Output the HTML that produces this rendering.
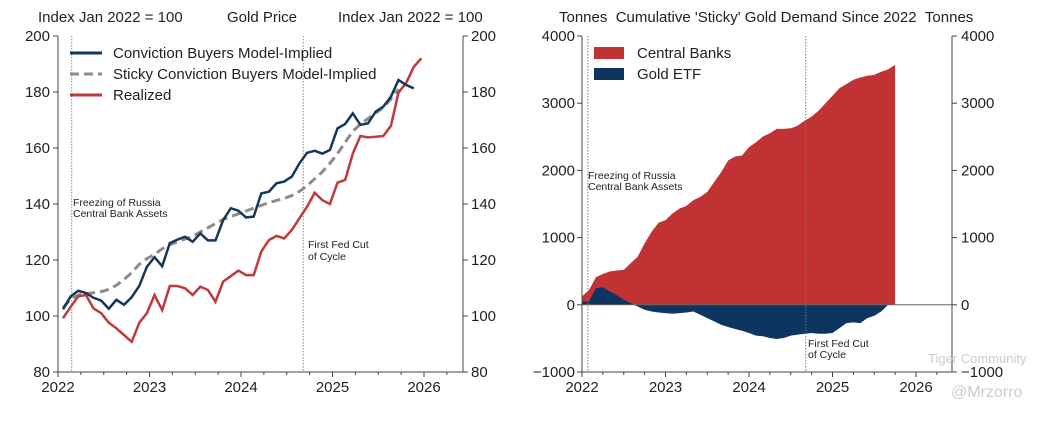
<!DOCTYPE html>
<html><head><meta charset="utf-8"><style>
body{margin:0;background:#fff;width:1061px;height:418px;overflow:hidden;font-family:"Liberation Sans",sans-serif}
svg text{font-family:"Liberation Sans",sans-serif;fill:#222}
</style></head><body>
<svg id="c" width="1061" height="418"></svg>
<script>
// Left chart data (monthly from Feb 2022)
const convictionVals=[102.4,107,109,108.2,106.5,105.5,102.6,105.8,104,106.7,110.8,117.6,121,117.8,126,127.3,128.3,126.5,129.5,127,127,134.3,138.5,137.6,135.2,135.5,143.8,144.4,147.4,148,149.8,154.5,158.3,159,158,159.3,167,168.6,172.4,168.3,168.8,173,174.8,178.3,184.3,182.5,181.3];
const stickyVals=[103,106,107.5,108,108.3,108.7,109.5,111,113,115.5,118.5,120.5,122,124,125.5,126.5,127.5,128.5,130,131.5,133,134.5,135.5,136.5,137.5,138.5,139.5,140.5,141.3,142,143,144.5,146.5,149,151.5,154.5,158,162,166,168.5,170.5,172.5,174.5,177.5,181];
const realizedVals=[99.2,103.3,107,107.5,102.7,101,97.6,95.6,93.2,90.8,97.6,101,107.5,102.1,110.7,110.7,109.9,107.5,110.5,109.3,105.1,112.3,114.2,116.2,114.6,114.6,123,127.1,128.6,127.7,130.7,134.9,139,144,141.4,140,147.6,148.6,158,164.3,163.8,164,164.3,167.9,179.8,183.3,189,192];
const leftTicks=[80,100,120,140,160,180,200];
const yearLabels=[2022,2023,2024,2025,2026];
// Right chart data (monthly from Jan 2022)
const centralBanks=[125,220,410,460,495,510,520,617,716,914,1086,1220,1260,1358,1432,1472,1556,1605,1680,1827,1975,2148,2207,2222,2346,2420,2504,2553,2617,2617,2627,2667,2741,2800,2889,2998,3111,3225,3284,3348,3383,3407,3422,3467,3506,3570];
const goldEtf=[50,50,247,262,198,148,74,25,-25,-74,-99,-114,-123,-133,-123,-114,-99,-148,-198,-247,-296,-331,-360,-385,-420,-459,-469,-494,-509,-494,-459,-444,-430,-420,-430,-430,-420,-346,-272,-262,-272,-198,-163,-99,0,0];
const rightTicks=[-1000,0,1000,2000,3000,4000];

const svg=document.getElementById('c');const NS='http://www.w3.org/2000/svg';
function mk(tag,attrs,parent){const e=document.createElementNS(NS,tag);for(const k in attrs)e.setAttribute(k,attrs[k]);(parent||svg).appendChild(e);return e;}
function txt(s,x,y,size,anchor,parent){const t=mk('text',{x:x,y:y,'font-size':size,'text-anchor':anchor||'start'},parent);t.textContent=s;return t;}

// ---- LEFT ----
const L={x0:58,x1:463,y0:372,y1:36,ymin:80,ymax:200,pxYear:91.5};
const lx=t=>L.x0+(t-2022)*L.pxYear;
const ly=v=>L.y0-(v-L.ymin)/(L.ymax-L.ymin)*(L.y0-L.y1);
const gl=mk('g',{});


mk('line',{x1:L.x0,y1:L.y1,x2:L.x0,y2:L.y0,stroke:'#444'},gl);
mk('line',{x1:L.x1,y1:L.y1,x2:L.x1,y2:L.y0,stroke:'#444'},gl);
mk('line',{x1:L.x0,y1:L.y0,x2:L.x1,y2:L.y0,stroke:'#444'},gl);
leftTicks.forEach(v=>{const y=ly(v);
 mk('line',{x1:L.x0-5,y1:y,x2:L.x0,y2:y,stroke:'#444'},gl);
 mk('line',{x1:L.x1,y1:y,x2:L.x1+5,y2:y,stroke:'#444'},gl);
 const a=txt(v,L.x0-8,y+5,15,'end',gl);
 const b=txt(v,L.x1+8,y+5,15,'start',gl);});
yearLabels.forEach(yr=>{const x=lx(yr);mk('line',{x1:x,y1:L.y0,x2:x,y2:L.y0+5,stroke:'#444'},gl);
 const t=txt(yr,x,L.y0+20,15,'middle',gl);});
for(let q=2022;q<2026.5;q+=0.25){const x=lx(q);if(x<=L.x1)mk('line',{x1:x,y1:L.y0,x2:x,y2:L.y0+3,stroke:'#444'},gl);}
mk('line',{x1:lx(2022.15),y1:L.y1,x2:lx(2022.15),y2:L.y0,stroke:'#888','stroke-dasharray':'1.5,1.5'},gl);
mk('line',{x1:lx(2024.68),y1:L.y1,x2:lx(2024.68),y2:L.y0,stroke:'#888','stroke-dasharray':'1.5,1.5'},gl);
txt('Freezing of Russia',73,206,10.5,'start',gl);txt('Central Bank Assets',73,217,10.5,'start',gl);
txt('First Fed Cut',308,248,10.5,'start',gl);txt('of Cycle',308,260,10.5,'start',gl);
function linePath(vals,xf,yf){return vals.map((v,i)=>(i?'L':'M')+xf(2022+0.055+i/12).toFixed(1)+','+yf(v).toFixed(1)).join('');}
const ps=mk('path',{d:linePath(stickyVals,lx,ly),fill:'none',stroke:'#8c8c8c','stroke-width':3,'stroke-dasharray':'9,5'},gl);

const pr=mk('path',{d:linePath(realizedVals,lx,ly),fill:'none',stroke:'#c0393b','stroke-width':2.5},gl);

const pc=mk('path',{d:linePath(convictionVals,lx,ly),fill:'none',stroke:'#14375a','stroke-width':2.5},gl);

[['Conviction Buyers Model-Implied','#14375a',''],['Sticky Conviction Buyers Model-Implied','#8c8c8c','9,5'],['Realized','#c0393b','']].forEach((e,i)=>{
 const g=mk('g',{},gl);
 const y=53+i*21;mk('line',{x1:70,y1:y,x2:102,y2:y,stroke:e[1],'stroke-width':3,'stroke-dasharray':e[2]},g);
 txt(e[0],113,y+5,15,'start',g);});
txt('Index Jan 2022 = 100',38,22,15,'start',gl);txt('Gold Price',262,22,15,'middle',gl);txt('Index Jan 2022 = 100',338,22,15,'start',gl);

// ---- RIGHT ----
const R={x0:582,x1:952,y0:372,y1:36,ymin:-1000,ymax:4000,pxYear:83.5};
const rx=t=>R.x0+(t-2022)*R.pxYear;
const ry=v=>R.y0-(v-R.ymin)/(R.ymax-R.ymin)*(R.y0-R.y1);
const gr=mk('g',{});


function areaPath(vals){let d='M'+rx(2022).toFixed(1)+','+ry(0).toFixed(1);
 vals.forEach((v,i)=>{d+='L'+rx(2022+i/12).toFixed(1)+','+ry(v).toFixed(1);});
 d+='L'+rx(2022+(vals.length-1)/12).toFixed(1)+','+ry(0).toFixed(1)+'Z';return d;}
const ac=mk('path',{d:areaPath(centralBanks),fill:'#c03233'},gr);

const ae=mk('path',{d:areaPath(goldEtf),fill:'#0e3560'},gr);

mk('line',{x1:R.x0,y1:ry(0),x2:R.x1,y2:ry(0),stroke:'#666','stroke-width':1},gr);
mk('line',{x1:R.x0,y1:R.y1,x2:R.x0,y2:R.y0,stroke:'#444'},gr);
mk('line',{x1:R.x1,y1:R.y1,x2:R.x1,y2:R.y0,stroke:'#444'},gr);
mk('line',{x1:R.x0,y1:R.y0,x2:R.x1,y2:R.y0,stroke:'#444'},gr);
rightTicks.forEach(v=>{const y=ry(v);
 mk('line',{x1:R.x0-5,y1:y,x2:R.x0,y2:y,stroke:'#444'},gr);
 mk('line',{x1:R.x1,y1:y,x2:R.x1+5,y2:y,stroke:'#444'},gr);
 const a=txt(v===-1000?'\u22121000':v,R.x0-7,y+5,15,'end',gr);
 const b=txt(v===-1000?'\u22121000':v,R.x1+9,y+5,15,'start',gr);});
yearLabels.forEach(yr=>{const x=rx(yr);mk('line',{x1:x,y1:R.y0,x2:x,y2:R.y0+5,stroke:'#444'},gr);
 const t=txt(yr,x,R.y0+20,15,'middle',gr);});
for(let q=2022;q<2026.5;q+=0.25){const x=rx(q);if(x<=R.x1)mk('line',{x1:x,y1:R.y0,x2:x,y2:R.y0+3,stroke:'#444'},gr);}
mk('line',{x1:rx(2022.07),y1:R.y1,x2:rx(2022.07),y2:R.y0,stroke:'#777','stroke-dasharray':'1.5,1.5'},gr);
mk('line',{x1:rx(2024.68),y1:R.y1,x2:rx(2024.68),y2:R.y0,stroke:'#777','stroke-dasharray':'1.5,1.5'},gr);
txt('Freezing of Russia',588,179,10.5,'start',gr);txt('Central Bank Assets',588,190,10.5,'start',gr);
txt('First Fed Cut',808,347,10.5,'start',gr);txt('of Cycle',808,358,10.5,'start',gr);
[['Central Banks','#c03233'],['Gold ETF','#0e3560']].forEach((e,i)=>{
 const g=mk('g',{},gr);
 const y=53+i*21;mk('rect',{x:594,y:y-6,width:30,height:12,fill:e[1]},g);
 txt(e[0],637,y+5,15,'start',g);});
const tt=txt("Tonnes\u00a0\u00a0Cumulative 'Sticky' Gold Demand Since 2022\u00a0\u00a0Tonnes",559,22,15,'start',gr);

const w1=txt('Tiger Community',928,363,13,'start');w1.style.fill='#ccc';

const w2=txt('@Mrzorro',951,397,16,'start');w2.style.fill='#ccc';

</script>
</body></html>
